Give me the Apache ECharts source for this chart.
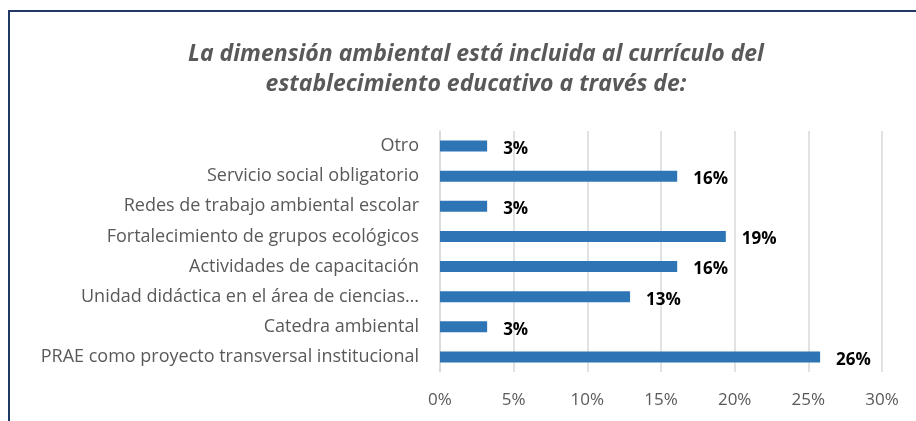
<!DOCTYPE html>
<html>
<head>
<meta charset="utf-8">
<script src="https://cdn.jsdelivr.net/npm/echarts@6/dist/echarts.min.js"></script>
<style>
  html, body { margin: 0; padding: 0; background: #fff; }
  #chart { width: 916px; height: 421px; }
</style>
</head>
<body>
<div id="chart"></div>
<script>
// categories from top to bottom
var categories = [
  'Otro',
  'Servicio social obligatorio',
  'Redes de trabajo ambiental escolar',
  'Fortalecimiento de grupos ecológicos',
  'Actividades de capacitación',
  'Unidad didáctica en el área de ciencias…',
  'Catedra ambiental',
  'PRAE como proyecto transversal institucional'
]
// percentages
var values = [3.2, 16.1, 3.2, 19.4, 16.1, 12.9, 3.2, 25.8]
var xTicks = [0, 5, 10, 15, 20, 25, 30]

var titleText = 'La dimensión ambiental está incluida al currículo del\nestablecimiento educativo a través de:'
var font = 'Open Sans'

var chart = echarts.init(document.getElementById('chart'))
chart.setOption({
  animation: false,
  backgroundColor: '#fff',
  title: {
    text: titleText,
    left: 471,
    top: 34,
    textAlign: 'center',
    textStyle: {
      fontFamily: font,
      fontSize: 23,
      fontWeight: 'bold',
      fontStyle: 'italic',
      color: '#595959',
      lineHeight: 30
    }
  },
  graphic: [{
    type: 'rect',
    shape: { x: 9, y: 11, width: 1000, height: 1000 },
    style: { fill: 'none', stroke: '#1f3864', lineWidth: 2 },
    silent: true
  }],
  grid: { left: 440, right: 34, top: 131, bottom: 49 },
  xAxis: {
    type: 'value',
    min: xTicks[0],
    max: xTicks[xTicks.length - 1],
    interval: 5,
    axisLine: { show: false },
    axisTick: { show: false },
    splitLine: { lineStyle: { color: '#d9d9d9', width: 1.5 } },
    axisLabel: {
      formatter: '{value}%',
      margin: 20,
      fontFamily: font,
      fontSize: 17,
      color: '#595959'
    }
  },
  yAxis: {
    type: 'category',
    inverse: true,
    data: categories,
    axisLine: { show: true, lineStyle: { color: '#d9d9d9', width: 1.5 } },
    axisTick: { show: false },
    axisLabel: {
      margin: 21,
      fontFamily: font,
      fontSize: 18,
      color: '#595959'
    }
  },
  series: [{
    type: 'bar',
    data: values,
    barWidth: 11,
    itemStyle: { color: '#2e75b6' },
    label: {
      show: true,
      position: 'right',
      distance: 16,
      offset: [0, 3],
      formatter: function (p) { return Math.round(p.value) + '%' },
      fontFamily: font,
      fontSize: 17,
      fontWeight: 'bold',
      color: '#000'
    }
  }]
})
</script>
</body>
</html>
